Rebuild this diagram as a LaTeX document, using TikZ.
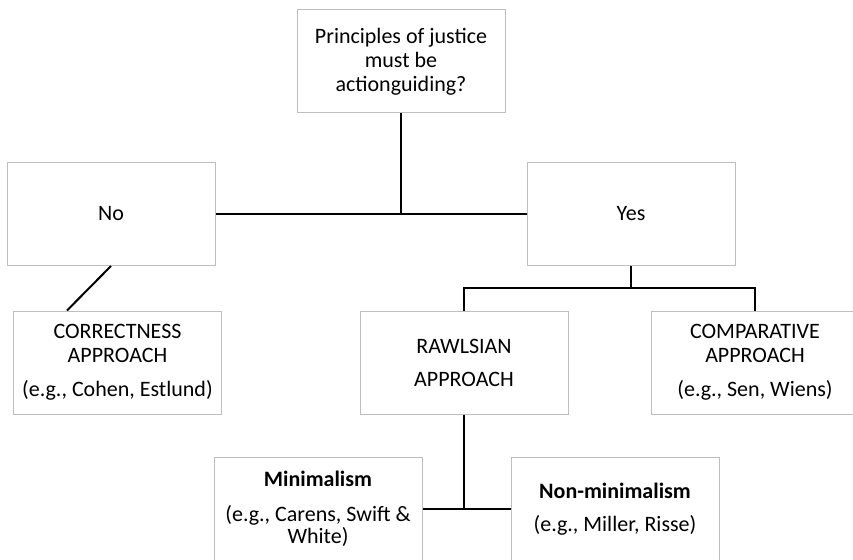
\documentclass[tikz,border=0pt]{standalone}
\usepackage{fontspec}
\setmainfont{Carlito}
\usepackage{tikz}
\usetikzlibrary{positioning, calc}
\usepackage{xcolor}
\definecolor{cinzaborda}{RGB}{190, 190, 190}

\begin{document}
\begin{tikzpicture}[
    x=1pt,
    y=-1pt,
    bloco/.style={
        draw=cinzaborda,
        line width=1pt,
        minimum width=208pt,
        minimum height=103pt,
        inner sep=0pt,
        align=center,
        font=\fontsize{22}{24}\selectfont
    },
    linha/.style={
        draw=black,
        line width=2pt
    }
]

\useasboundingbox (0,0) rectangle (853,559);
\clip (0,0) rectangle (853,559);

% ---------------- Question ----------------

\node[bloco] (pergunta) at (401,61.5)
{
    Principles of justice\\
    must be\\
    actionguiding?
};

% ---------------- No / Yes ----------------

\node[bloco] (nao) at (111,214)
{No};

\node[bloco] (sim) at (631,214)
{Yes};

% ---------------- Approaches ----------------

\node[bloco] (correctness) at (117.5,362.5)
{
    CORRECTNESS\\
    APPROACH\\[10pt]
    (e.g., Cohen, Estlund)
};

\node[bloco] (rawlsian) at (464,362.5)
{
    RAWLSIAN\\[9pt]
    APPROACH
};

\node[bloco] (comparative) at (755,362.5)
{
    COMPARATIVE\\
    APPROACH\\[10pt]
    (e.g., Sen, Wiens)
};

% ---------------- Minimalism ----------------

\node[bloco] (minimal) at (318,509)
{
    \textbf{Minimalism}\\[11pt]
    (e.g., Carens, Swift \&\\[-2pt]
    White)
};

\node[bloco] (naominimal) at (615,509)
{
    \textbf{Non-minimalism}\\[9pt]
    (e.g., Miller, Risse)
};

% ---------------- Lines ----------------

\coordinate (juncao) at (pergunta.south |- nao.east);
\coordinate (divisao) at ($(sim.south)+(0,22)$);

\draw[linha] (pergunta.south) -- (juncao);
\draw[linha] (nao.east) -- (sim.west);
\draw[linha] (nao.south) -- ([xshift=-50.5pt]correctness.north);
\draw[linha] (sim.south) -- (divisao);
\draw[linha] (rawlsian.north) |- (divisao) -| (comparative.north);
\draw[linha] (rawlsian.south) -- (rawlsian.south |- minimal.east);
\draw[linha] (minimal.east) -- (naominimal.west);

\end{tikzpicture}
\end{document}
